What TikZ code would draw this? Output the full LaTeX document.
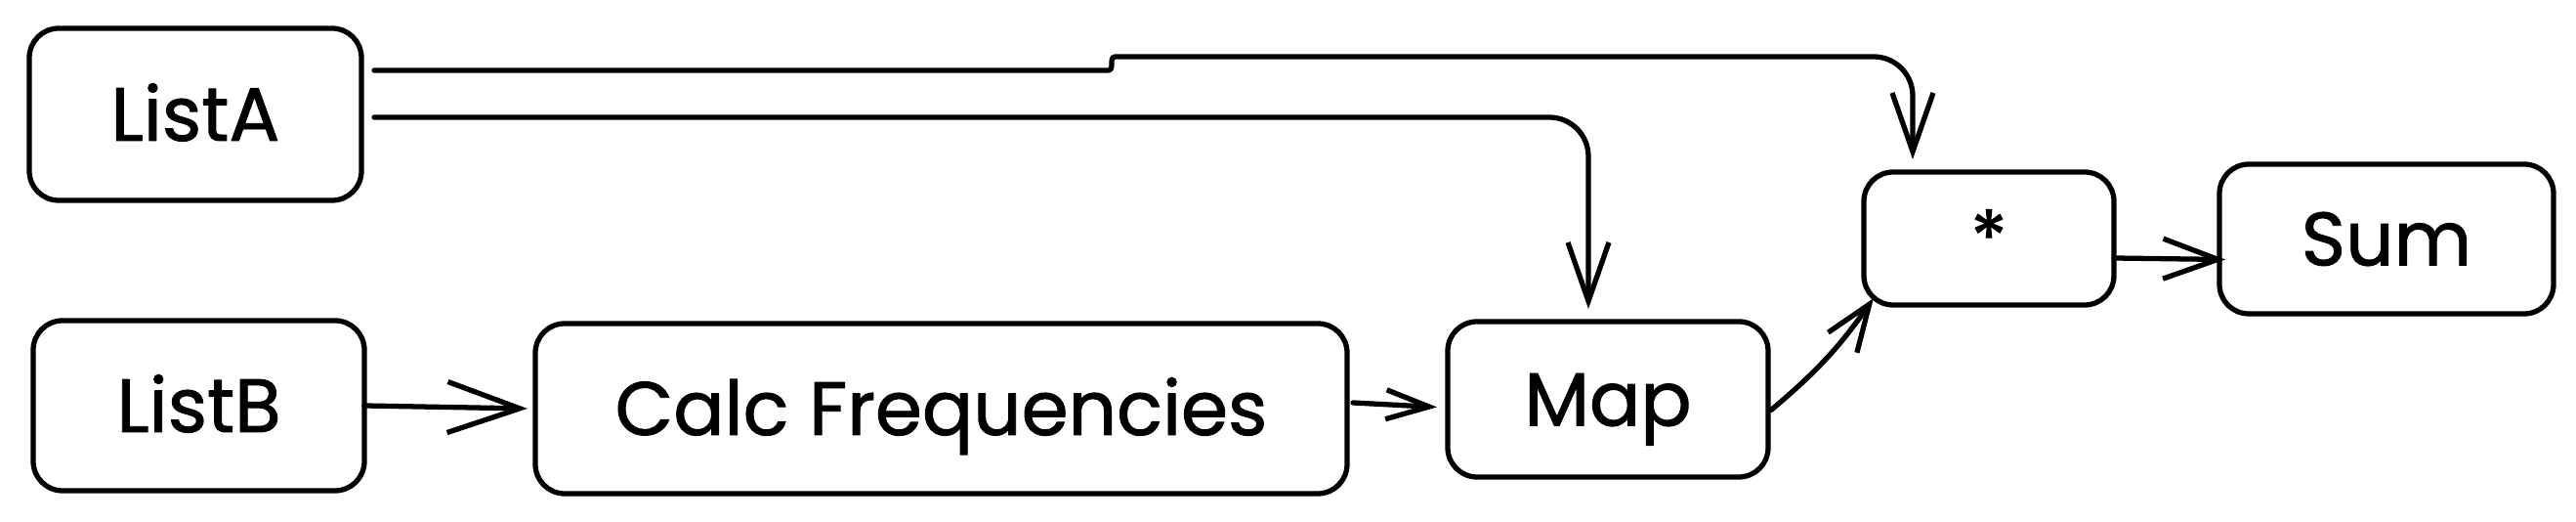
\documentclass[tikz,border=0pt]{standalone}
\usepackage{fontspec}
\setmainfont{Poppins}[FakeBold=1.2]
\usepackage{pgf,tikz}
\usetikzlibrary{arrows.meta}

\begin{document}
\begin{tikzpicture}[line cap=round,line join=round,>={Straight Barb[length=6mm,width=4.2mm]},x=1cm,y=1cm]
\useasboundingbox (0,0) rectangle (26.37,5.34);
\tikzstyle{box}=[draw, line width=1.5pt, rounded corners=3mm, inner sep=0pt, outer sep=0pt, font=\fontsize{22}{26}\selectfont, text height=0.54cm, text depth=0pt]
\tikzstyle{conn}=[line width=1.5pt]

\node [box, minimum width=3.40cm, minimum height=1.76cm] (la) at (2.00,4.17) {ListA};
\node [box, minimum width=3.39cm, minimum height=1.74cm] (lb) at (2.035,1.19) {ListB};
\node [box, minimum width=8.31cm, minimum height=1.74cm] (calc) at (9.635,1.16) {Calc Frequencies};
\node [box, minimum width=3.28cm, minimum height=1.59cm] (map) at (16.46,1.255) {Map};
\node [box, minimum width=2.56cm, minimum height=1.36cm] (mul) at (20.36,2.90) {*};
\node [box, minimum width=3.42cm, minimum height=1.53cm] (sum) at (24.43,2.895) {Sum};

%listA upper line, with the little step
\draw [conn, ->] ([xshift=1.3mm,yshift=4.5mm]la.east) -- (11.34,4.62)
  .. controls (11.42,4.62) and (11.34,4.76) .. (11.42,4.76)
  [rounded corners=4mm] -- (19.58,4.76) -- ([xshift=5mm,yshift=1.3mm]mul.north west);
%listA lower line
\draw [conn, ->, rounded corners=4mm] ([xshift=1.3mm,yshift=-0.3mm]la.east) -| ([xshift=-2mm,yshift=1.3mm]map.north);
\draw [conn, -{Straight Barb[length=7.4mm,width=5.2mm]}] (lb.east) -- ([xshift=-0.8mm]calc.west);
\draw [conn, -{Straight Barb[length=4.4mm,width=3mm]}] ([xshift=0.6mm,yshift=0.6mm]calc.east) -- ([xshift=-1.1mm,yshift=-0.8mm]map.west);
\draw [conn, -{Straight Barb[length=4.8mm,width=3.6mm]}] ([xshift=0.3mm,yshift=-1.1mm]map.east) to[out=40,in=235] ([xshift=1mm,yshift=0.7mm]mul.south west);
\draw [conn, -{Straight Barb[length=5.6mm,width=4.1mm]}] ([yshift=-2mm]mul.east) -- ([xshift=0.6mm,yshift=-2.1mm]sum.west);
\end{tikzpicture}
\end{document}
